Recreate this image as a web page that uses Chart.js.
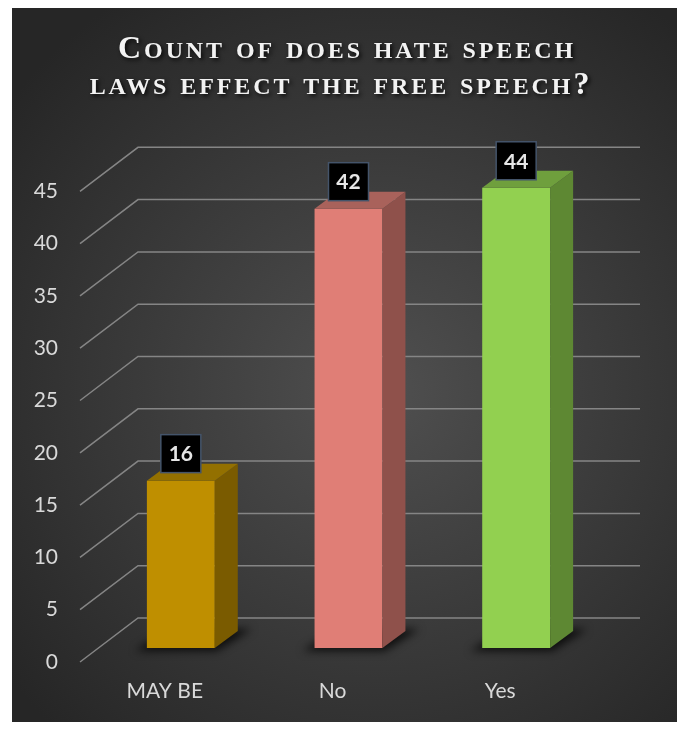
<!DOCTYPE html>
<html>
<head>
<meta charset="utf-8">
<title>Hate speech laws survey</title>
<script src="https://cdn.jsdelivr.net/npm/chart.js@4.4.1/dist/chart.umd.min.js"></script>
<style>
  html, body { margin: 0; padding: 0; background: #fff; }
  #wrap { width: 681px; height: 731px; }
</style>
</head>
<body>
<div id="wrap"><canvas id="surveyChart" width="681" height="731"></canvas></div>
<script>
const answers = ["MAY BE", "No", "Yes"];
const counts = [16, 42, 44];
const titleLines = ["Count of does hate speech", "laws effect the free speech?"];

// face colours per bar: front, top, side
const frontColors = ["#bf8f00", "#e07e76", "#92d050"];
const topColors = ["#937000", "#a9625b", "#6f9f3d"];
const sideColors = ["#7a5b00", "#8f514b", "#5e8833"];

const DEPTH_X = 23, DEPTH_Y = 17;

// dark panel with soft radial light
const panelBg = {
  id: "panelBg",
  beforeDraw(chart) {
    const ctx = chart.ctx;
    ctx.save();
    ctx.fillStyle = "#fff";
    ctx.fillRect(0, 0, chart.width, chart.height);
    const g = ctx.createRadialGradient(380, 390, 20, 380, 390, 470);
    g.addColorStop(0, "#4e4e4e");
    g.addColorStop(1, "#262626");
    ctx.fillStyle = g;
    ctx.fillRect(12, 8, 665, 714);
    ctx.restore();
  }
};

// perspective gridlines: front floor edge -> back wall
const wallGrid = {
  id: "wallGrid",
  beforeDatasetsDraw(chart) {
    const { ctx, chartArea } = chart;
    const y = chart.scales.y;
    ctx.save();
    ctx.strokeStyle = "#858585";
    ctx.lineWidth = 1.5;
    y.ticks.forEach(t => {
      if (t.value > 45) return;
      const p = y.getPixelForValue(t.value);
      ctx.beginPath();
      ctx.moveTo(chartArea.left - 17, p + 14);
      ctx.lineTo(chartArea.left + 41, p - 30);
      ctx.lineTo(chartArea.right + 40, p - 30);
      ctx.stroke();
    });
    ctx.restore();
  }
};

// shadows under bars, then top and side faces, then value boxes
const bars3d = {
  id: "bars3d",
  beforeDatasetsDraw(chart) {
    const ctx = chart.ctx;
    const meta = chart.getDatasetMeta(0);
    ctx.save();
    ctx.filter = "blur(4px)";
    ctx.fillStyle = "rgba(0,0,0,0.75)";
    meta.data.forEach(bar => {
      const l = bar.x - bar.width / 2, r = bar.x + bar.width / 2, b = bar.base;
      ctx.beginPath();
      ctx.moveTo(l - 12, b + 3);
      ctx.lineTo(r + 2, b + 3);
      ctx.lineTo(r + DEPTH_X + 14, b - DEPTH_Y - 2);
      ctx.lineTo(l + DEPTH_X, b - DEPTH_Y - 2);
      ctx.closePath();
      ctx.fill();
    });
    ctx.restore();
  },
  afterDatasetsDraw(chart) {
    const ctx = chart.ctx;
    const meta = chart.getDatasetMeta(0);
    ctx.save();
    meta.data.forEach((bar, i) => {
      const l = bar.x - bar.width / 2, r = bar.x + bar.width / 2;
      const t = bar.y, b = bar.base;
      ctx.fillStyle = sideColors[i];
      ctx.beginPath();
      ctx.moveTo(r, t);
      ctx.lineTo(r + DEPTH_X, t - DEPTH_Y);
      ctx.lineTo(r + DEPTH_X, b - DEPTH_Y);
      ctx.lineTo(r, b);
      ctx.closePath();
      ctx.fill();
      ctx.fillStyle = topColors[i];
      ctx.beginPath();
      ctx.moveTo(l, t);
      ctx.lineTo(l + DEPTH_X, t - DEPTH_Y);
      ctx.lineTo(r + DEPTH_X, t - DEPTH_Y);
      ctx.lineTo(r, t);
      ctx.closePath();
      ctx.fill();

      // value label box
      const bw = 40, bh = 38;
      const bx = bar.x - bw / 2, by = t - 8 - bh;
      ctx.fillStyle = "#000";
      ctx.fillRect(bx, by, bw, bh);
      ctx.strokeStyle = "#44546a";
      ctx.lineWidth = 1.5;
      ctx.strokeRect(bx, by, bw, bh);
      ctx.fillStyle = "#e6e6e6";
      ctx.font = "bold 21px Lato";
      ctx.textAlign = "center";
      ctx.textBaseline = "middle";
      ctx.fillText(String(counts[i]), bar.x, by + bh / 2 + 1);
    });
    ctx.restore();
  }
};

// small caps by hand: capitals at full size, lower case as smaller capitals
const BIG = "bold 32px 'Liberation Serif'";
const SMALL = "bold 24px 'Liberation Serif'";

function capsRuns(text) {
  const runs = [];
  for (const ch of text) {
    const small = ch !== ch.toUpperCase();
    const last = runs[runs.length - 1];
    if (last && last.small === small) last.text += small ? ch.toUpperCase() : ch;
    else runs.push({ small, text: small ? ch.toUpperCase() : ch });
  }
  return runs;
}

function drawCaps(ctx, text, cx, baseline) {
  const runs = capsRuns(text);
  let total = 0;
  runs.forEach(r => {
    ctx.font = r.small ? SMALL : BIG;
    r.w = ctx.measureText(r.text).width;
    total += r.w;
  });
  let x = cx - total / 2;
  runs.forEach(r => {
    ctx.font = r.small ? SMALL : BIG;
    ctx.fillText(r.text, x, baseline);
    x += r.w;
  });
}

const capsTitle = {
  id: "capsTitle",
  afterDraw(chart) {
    const ctx = chart.ctx;
    ctx.save();
    ctx.letterSpacing = "2.9px";
    ctx.textAlign = "left";
    ctx.textBaseline = "alphabetic";
    ctx.fillStyle = "#f2f2f2";
    ctx.shadowColor = "rgba(0,0,0,0.85)";
    ctx.shadowBlur = 4;
    ctx.shadowOffsetX = 2;
    ctx.shadowOffsetY = 2;
    drawCaps(ctx, titleLines[0], 347, 58);
    drawCaps(ctx, titleLines[1], 341, 94);
    ctx.restore();
  }
};

Chart.defaults.font.family = "Lato";
Chart.defaults.color = "#d9d9d9";

new Chart(document.getElementById("surveyChart"), {
  type: "bar",
  data: {
    labels: answers,
    datasets: [{
      data: counts,
      backgroundColor: frontColors,
      borderWidth: 0,
      categoryPercentage: 1,
      barPercentage: 0.405,
      clip: false
    }]
  },
  options: {
    responsive: false,
    animation: false,
    layout: { padding: { top: 125, right: 81, bottom: 0, left: 0 } },
    plugins: {
      legend: { display: false },
      title: { display: false },
      tooltip: { enabled: false }
    },
    scales: {
      x: {
        grid: { display: false, drawTicks: false },
        border: { display: false },
        ticks: { font: { size: 21 }, padding: 31, labelOffset: -16 },
        afterFit(scale) { scale.height = 83; }
      },
      y: {
        min: 0,
        max: 50,
        grid: { display: false, drawTicks: false },
        border: { display: false },
        ticks: {
          stepSize: 5,
          font: { size: 21 },
          padding: 39,
          labelOffset: 14,
          callback: v => (v > 45 ? "" : v)
        },
        afterFit(scale) { scale.width = 97; }
      }
    }
  },
  plugins: [panelBg, wallGrid, bars3d, capsTitle]
});
</script>
</body>
</html>
